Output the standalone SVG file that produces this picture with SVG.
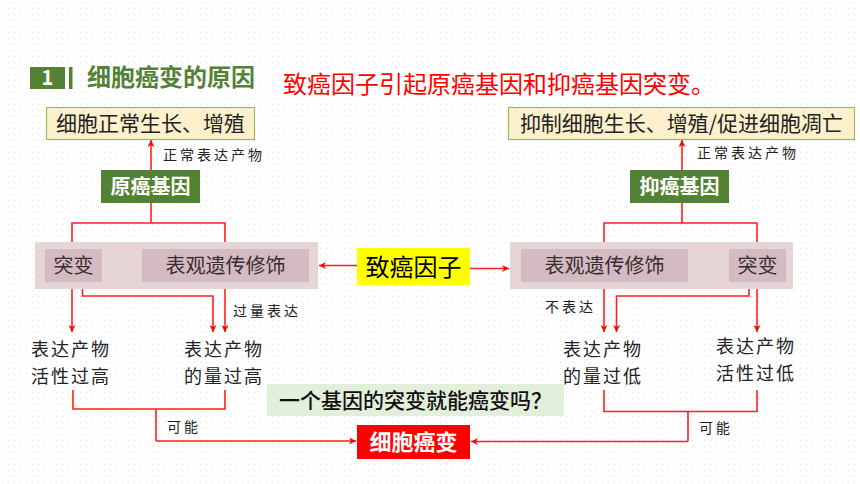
<svg xmlns="http://www.w3.org/2000/svg" width="860" height="484" viewBox="0 0 860 484">
<defs>
<pattern id="dots" width="6" height="6" patternUnits="userSpaceOnUse">
<rect x="2" y="2" width="1" height="1" fill="#e2e2e2"/>
</pattern>
<marker id="ah" viewBox="0 0 10 10" refX="10" refY="5" markerWidth="7" markerHeight="7" markerUnits="userSpaceOnUse" orient="auto">
<path d="M0,0 L10,5 L0,10 L3,5 Z" fill="#ff0000"/>
</marker>
</defs>
<style>
text{font-family:"Noto Sans CJK SC","Liberation Sans",sans-serif;}
.ln{fill:none;stroke:#ff2020;stroke-width:1.6;}
.arr{fill:none;stroke:#ff2020;stroke-width:1.6;marker-end:url(#ah);}
.res{fill:#fdf0cc;stroke:#9bbb59;stroke-width:1.2;}
.gene{fill:#548235;}
.gt{fill:#ffffff;font-size:20px;font-weight:bold;text-anchor:middle;}
.outer{fill:#e6d5d5;}
.inner{fill:#d4bbc3;}
.it{fill:#3a2d2f;font-size:20px;text-anchor:middle;}
.lab{fill:#222;font-size:14px;letter-spacing:3px;}
.eff{fill:#222;font-size:18px;letter-spacing:2px;}
</style>
<rect width="860" height="484" fill="#ffffff"/>
<rect width="860" height="484" fill="url(#dots)"/>

<g id="title">
<rect x="30" y="67" width="35" height="22" fill="#548235"/>
<text x="47.5" y="85" fill="#ffffff" font-size="20" font-weight="bold" text-anchor="middle">1</text>
<rect x="69" y="67" width="3.5" height="22" fill="#548235"/>
<text x="87" y="86" fill="#548235" font-size="24" font-weight="bold">细胞癌变的原因</text>
</g>
<g id="subtitle">
<text x="283" y="93" fill="#ff0000" font-size="24">致癌因子引起原癌基因和抑癌基因突变。</text>
</g>

<g id="connectors">
<path class="arr" d="M151,170 V140"/>
<path class="arr" d="M682,170 V140"/>
<path class="ln" d="M151,203 V223 M72,249 V223 H225 V249"/>
<path class="ln" d="M682,203 V223 M604,249 V223 H757 V249"/>
<path class="arr" d="M357,265.5 H319"/>
<path class="arr" d="M470,268.5 H509"/>
<path class="arr" d="M72,282 V332"/>
<path class="arr" d="M82.5,282 V296 H213 V332"/>
<path class="arr" d="M225,282 V332"/>
<path class="arr" d="M604,282 V332"/>
<path class="arr" d="M749,282 V296 H616.5 V332"/>
<path class="arr" d="M757,282 V332"/>
<path class="ln" d="M73,390 V409 H225 V390 M156,409 V441"/>
<path class="arr" d="M156,441 H356"/>
<path class="ln" d="M604,390 V411.5 H757 V390 M688,411.5 V441.5"/>
<path class="arr" d="M688,441.5 H471"/>
<text class="lab" x="163" y="160">正常表达产物</text>
<text class="lab" x="697" y="158">正常表达产物</text>
<text class="lab" x="233" y="316">过量表达</text>
<text class="lab" x="545" y="312">不表达</text>
<text class="lab" x="167" y="432">可能</text>
<text class="lab" x="699" y="433">可能</text>
</g>

<g id="normal-growth">
<rect class="res" x="46.5" y="107.5" width="208" height="32"/>
<text x="150.5" y="131" fill="#222" font-size="21" text-anchor="middle">细胞正常生长、增殖</text>
</g>
<g id="suppress-growth">
<rect class="res" x="508.5" y="107.5" width="346" height="32"/>
<text x="681.5" y="131" fill="#222" font-size="21" text-anchor="middle">抑制细胞生长、增殖/促进细胞凋亡</text>
</g>

<g id="proto-oncogene">
<rect class="gene" x="101" y="170" width="99" height="33"/>
<text class="gt" x="150.5" y="194">原癌基因</text>
</g>
<g id="tumor-suppressor">
<rect class="gene" x="630" y="170" width="99" height="33"/>
<text class="gt" x="679.5" y="194">抑癌基因</text>
</g>

<g id="left-group">
<rect class="outer" x="35" y="242" width="283" height="47"/>
<g id="left-mutation">
<rect class="inner" x="45" y="249" width="57" height="33"/>
<text class="it" x="73.5" y="273">突变</text>
</g>
<g id="left-epigenetic">
<rect class="inner" x="142" y="249" width="167" height="33"/>
<text class="it" x="225.5" y="273">表观遗传修饰</text>
</g>
</g>

<g id="right-group">
<rect class="outer" x="510" y="242" width="283" height="47"/>
<g id="right-epigenetic">
<rect class="inner" x="521" y="249" width="167" height="33"/>
<text class="it" x="604.5" y="273">表观遗传修饰</text>
</g>
<g id="right-mutation">
<rect class="inner" x="729" y="249" width="57" height="33"/>
<text class="it" x="757.5" y="273">突变</text>
</g>
</g>

<g id="carcinogen">
<rect x="357" y="248" width="113" height="37" fill="#ffff00"/>
<text x="413.5" y="276" fill="#000" font-size="24" text-anchor="middle">致癌因子</text>
</g>

<g id="activity-high">
<text class="eff" x="31" y="355.5">表达产物</text>
<text class="eff" x="31" y="382.5">活性过高</text>
</g>
<g id="amount-high">
<text class="eff" x="184" y="355.5">表达产物</text>
<text class="eff" x="184" y="382.5">的量过高</text>
</g>
<g id="amount-low">
<text class="eff" x="563" y="355.5">表达产物</text>
<text class="eff" x="563" y="382.5">的量过低</text>
</g>
<g id="activity-low">
<text class="eff" x="716" y="352.5">表达产物</text>
<text class="eff" x="716" y="379.5">活性过低</text>
</g>

<g id="question">
<rect x="267" y="384" width="297" height="32" fill="#e2efda"/>
<text x="415.5" y="408" fill="#111" font-size="21" font-weight="500" text-anchor="middle">一个基因的突变就能癌变吗？</text>
</g>

<g id="cancer">
<rect x="357" y="425" width="113" height="34" fill="#ff0000"/>
<text x="413.5" y="450" fill="#ffffff" font-size="22" font-weight="bold" text-anchor="middle">细胞癌变</text>
</g>
</svg>
